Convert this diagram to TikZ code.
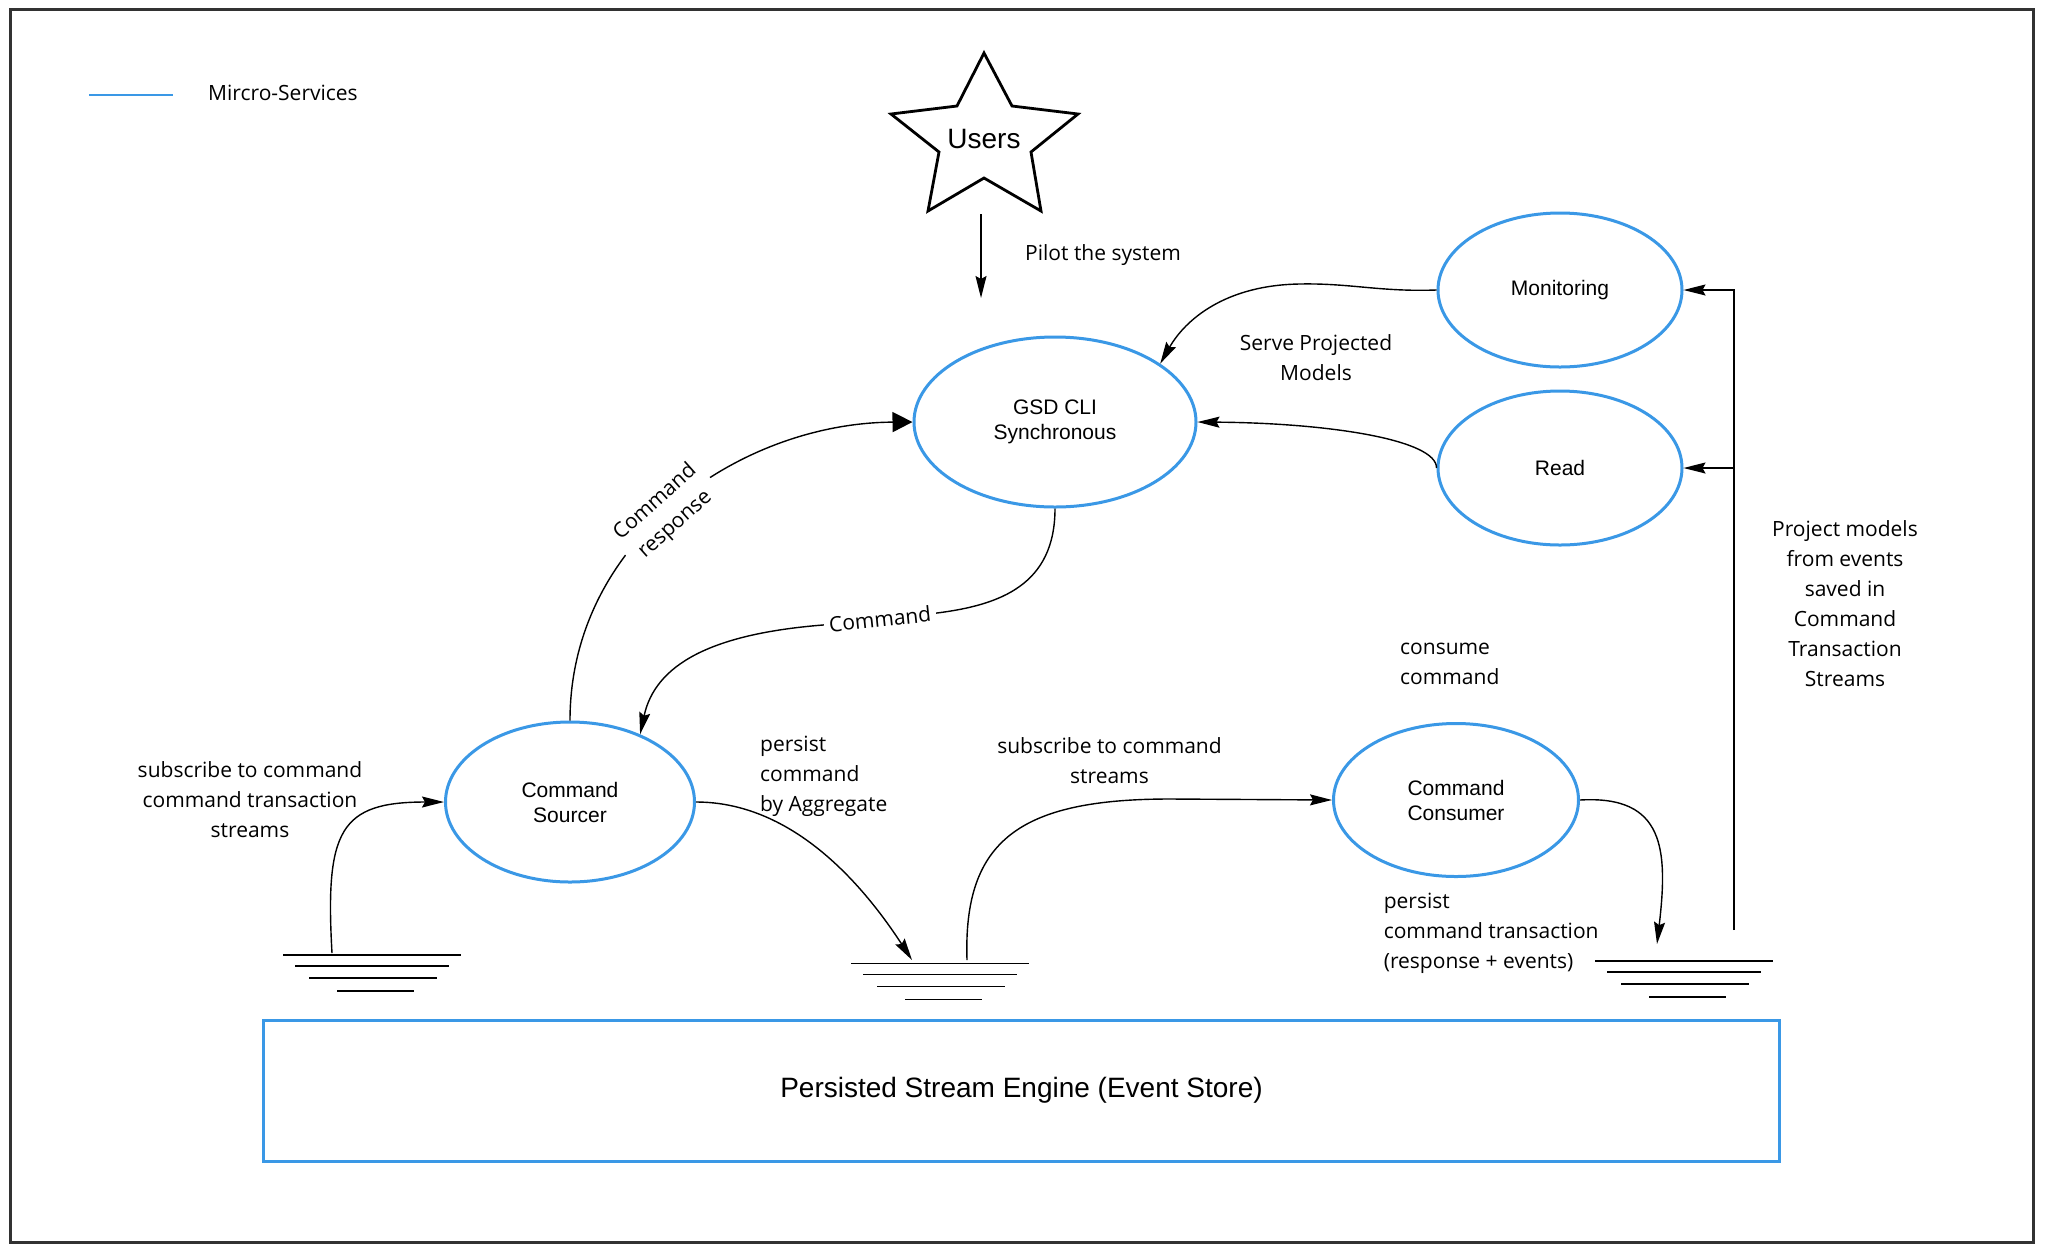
\documentclass[tikz,border=0pt]{standalone}
\usepackage{fontspec}
\newfontfamily\labfont{Open Sans}
\newfontfamily\nodfont{Liberation Sans}
\usetikzlibrary{shapes.geometric,arrows.meta}
\definecolor{msblue}{RGB}{58,152,230}
\definecolor{framegray}{RGB}{50,50,50}
\begin{document}
\begin{tikzpicture}[x=1pt,y=-1pt,
  svc/.style={ellipse, draw=msblue, line width=3pt, inner sep=0pt, align=center,
              font=\nodfont\fontsize{21}{25}\selectfont},
  lab/.style={font=\labfont\fontsize{21}{30}\selectfont, inner sep=0pt},
  conn/.style={line width=1.4pt, -{Stealth[length=22pt,width=11pt,inset=3pt]}},
  bigconn/.style={line width=1.4pt, -{Triangle[length=20pt,width=20pt]}},
  plainline/.style={line width=1.4pt},
  groundsym/.pic={
    \draw[line width=1.6pt] (-89,0) -- (89,0);
    \draw[line width=1.6pt] (-77,11) -- (77,11);
    \draw[line width=1.6pt] (-63,23) -- (65,23);
    \draw[line width=1.6pt] (-35,36) -- (42,36);
  }
]
\useasboundingbox (0,0) rectangle (2046,1254);
\fill[white] (0,0) rectangle (2046,1254);
% outer frame
\draw[framegray, line width=3pt] (10.5,9) rectangle (2033,1242);

% legend
\coordinate (lega) at (89,95);
\coordinate (legb) at (173,95);
\draw[msblue, line width=2pt] (lega) -- (legb);
\node[lab, anchor=west] (legtext) at (208,93) {Mircro-Services};

% users star
\draw[line width=2.8pt, line join=miter]
  (984,53) -- (1012,106) -- (1078,114) -- (1031,152) -- (1041,211) -- (984,178)
  -- (928,211) -- (939,152) -- (891,114) -- (957,106) -- cycle;
\node[font=\nodfont\fontsize{28}{30}\selectfont, inner sep=0pt] (users) at (984,139) {Users};

% service ellipses
\node[svc, minimum width=282pt, minimum height=170pt] (gsd) at (1055,422) {GSD CLI\\Synchronous};
\node[svc, minimum width=244pt, minimum height=154pt] (mon) at (1560,290) {Monitoring};
\node[svc, minimum width=244pt, minimum height=154pt] (read) at (1560,468) {Read};
\node[svc, minimum width=249pt, minimum height=160pt] (sourcer) at (570,802) {Command\\Sourcer};
\node[svc, minimum width=245pt, minimum height=153pt] (consumer) at (1456,800) {Command\\Consumer};

% event store
\node[draw=msblue, line width=3pt, minimum width=1516pt, minimum height=141pt, inner sep=0pt,
      font=\nodfont\fontsize{28}{30}\selectfont] (store) at (1021.5,1090.5)
      {Persisted Stream Engine (Event Store)};

% ground symbols (streams)
\pic at (372,955) {groundsym};
\pic at (940,963.5) {groundsym};
\pic at (1684,961) {groundsym};
\coordinate (g1out) at (332,953);
\coordinate (g2in) at (912,960);
\coordinate (g2out) at (967,960);
\coordinate (g3in) at (1657,944);

% pilot arrow
\coordinate (pa) at (981,214);
\coordinate (pb) at (981,298);
\draw[conn] (pa) -- (pb);
\node[lab, anchor=west] (pilot) at (1025,255) {Pilot the system};

% command response
\draw[bigconn] (sourcer.north) .. controls (570,540) and (740,423) ..
  node[lab, pos=0.47, sloped, fill=white, align=center, inner xsep=6pt, inner ysep=2pt] (resp) {Command\\response}
  (gsd.west);

% command
\coordinate (cmda) at (937,613);
\coordinate (cmdb) at (823,625);
\draw[conn] (gsd.south) .. controls (1055,585) and (1000,605) .. (cmda)
  -- node[lab, sloped, fill=white, inner xsep=5pt, inner ysep=2pt] (cmdlab) {Command} (cmdb)
  .. controls (710,634) and (655,665) .. (sourcer.44);

% monitoring -> gsd
\coordinate (monmid) at (1300,284);
\draw[conn] (mon.west) .. controls (1380,292) and (1350,283) .. (monmid)
  .. controls (1225,285) and (1185,320) .. (gsd.29);
% read -> gsd
\draw[conn] (read.west) .. controls (1437,440) and (1330,423) .. (gsd.east);
\node[lab, align=center] (serve) at (1316,357.5) {Serve Projected\\Models};

% projection line
\coordinate (vb) at (1734,930);
\coordinate (vt) at (1734,290);
\coordinate (vm) at (1734,468);
\draw[conn] (vb) -- (vt) -- (mon.east);
\draw[conn] (vm) -- (read.east);
\node[lab, align=center] (proj) at (1845,604)
  {Project models\\from events\\saved in\\Command\\Transaction\\Streams};

% ground1 -> sourcer
\draw[conn] (g1out) .. controls (325,830) and (340,802) .. (sourcer.west);
\node[lab, align=center] (sub1) at (250,799.5) {subscribe to command\\command transaction\\streams};

% sourcer -> ground2
\draw[conn] (sourcer.east) .. controls (790,802) and (860,880) .. (g2in);
\node[lab, align=left, anchor=west] (persist1) at (760,776) {persist\\command\\by Aggregate};

% ground2 -> consumer
\coordinate (subknee) at (1170,799);
\draw[conn] (g2out) .. controls (963,840) and (1020,799) .. (subknee) -- (consumer.west);
\node[lab, align=center] (sub2) at (1109.5,761) {subscribe to command\\streams};
\node[lab, align=left, anchor=west] (consume) at (1400,663.5) {consume\\command};

% consumer -> ground3
\draw[conn] (consumer.east) .. controls (1665,795) and (1668,850) .. (g3in);
\node[lab, align=left, anchor=west] (persist2) at (1383.6,933)
  {persist\\command transaction\\(response + events)};
\end{tikzpicture}
\end{document}
